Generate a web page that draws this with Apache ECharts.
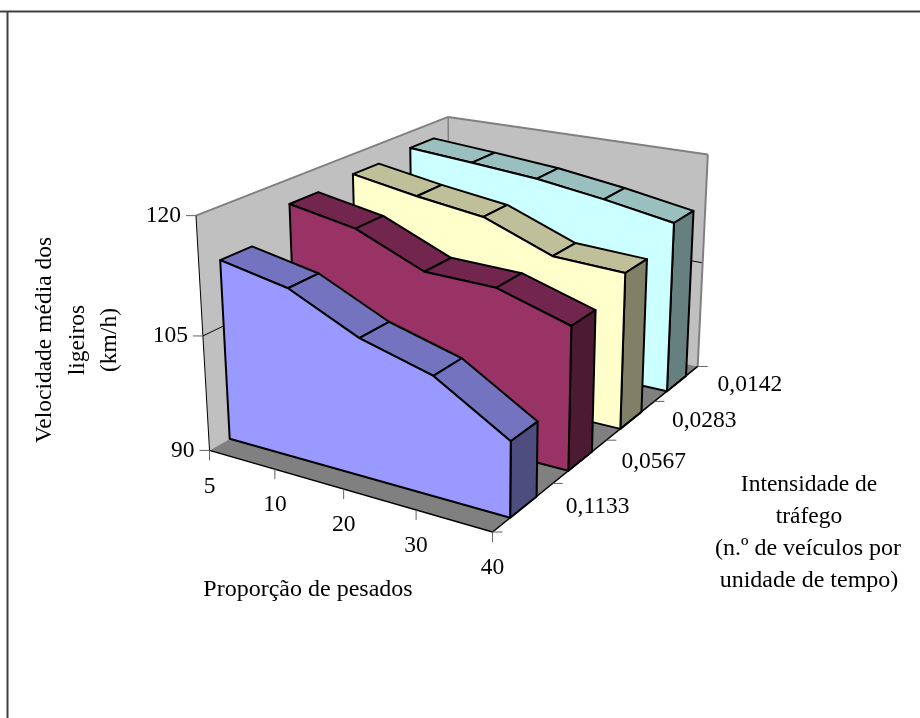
<!DOCTYPE html>
<html><head><meta charset="utf-8">
<style>html,body{margin:0;background:#fff}#c{width:920px;height:718px}</style>
<script src="https://cdn.jsdelivr.net/npm/echarts@6/dist/echarts.min.js"></script>
</head><body><div id="c"></div>
<script>
const proportions = ['5','10','20','30','40'];
const intensities = ['0,1133','0,0567','0,0283','0,0142'];
const speedMin = 90, speedMax = 120, speedStep = 15;
const speedsAt1133 = [113.4,111.7,107.5,105.0,99.4];
const speedsAt0567 = [116.8,115.2,111.4,111.2,108.4];
const speedsAt0283 = [117.3,115.8,114.6,111.1,110.7];
const speedsAt0142 = [117.7,117.0,116.2,114.9,113.3];
const bands = [speedsAt1133, speedsAt0567, speedsAt0283, speedsAt0142];
const faceColors = [
  ['#9999FF','#7373BF','#4D4D80'],
  ['#993366','#73264D','#4D1A33'],
  ['#FFFFCC','#BFBF99','#808066'],
  ['#CCFFFF','#99BFBF','#668080']
];
// Reference frame of the box: [x, depth, height] -> page position.
const boxFrame = [
  [0,0,0,210,451],[1,0,0,492,532],[1,1,0,698,366],[0,1,0,449,313],
  [0,0,1,196,215],[0,1,1,448,117],[1,1,1,708,155]
];
const bandFront = 0.28, bandBack = 0.72;
const FONT = '"Liberation Serif","Times New Roman",serif';

// Least-squares pinhole camera from the frame correspondences.
function fitCamera(rows){
  const n=11, A=[...Array(n)].map(()=>Array(n+1).fill(0));
  const add=(r,b)=>{for(let i=0;i<n;i++){for(let j=0;j<n;j++)A[i][j]+=r[i]*r[j];A[i][n]+=r[i]*b;}};
  rows.forEach(([X,Y,Z,u,v])=>{
    u/=500;v/=500;
    add([X,Y,Z,1,0,0,0,0,-u*X,-u*Y,-u*Z],u);
    add([0,0,0,0,X,Y,Z,1,-v*X,-v*Y,-v*Z],v);
  });
  for(let i=0;i<n;i++){
    let p=i;for(let k=i+1;k<n;k++)if(Math.abs(A[k][i])>Math.abs(A[p][i]))p=k;
    [A[i],A[p]]=[A[p],A[i]];
    for(let k=0;k<n;k++){if(k===i)continue;const f=A[k][i]/A[i][i];for(let j=i;j<=n;j++)A[k][j]-=f*A[i][j];}
  }
  return A.map((r,i)=>r[n]/r[i]);
}
const cam = fitCamera(boxFrame);
function toPage(x,d,z){
  const w=cam[8]*x+cam[9]*d+cam[10]*z+1;
  return [500*(cam[0]*x+cam[1]*d+cam[2]*z+cam[3])/w, 500*(cam[4]*x+cam[5]*d+cam[6]*z+cam[7])/w];
}

const chart = echarts.init(document.getElementById('c'),null,{renderer:'canvas'});

function poly(pts,fill,stroke,lw){
  return {type:'polygon',shape:{points:pts},style:{fill:fill||'none',stroke:stroke||'none',lineWidth:lw||0,lineJoin:'round'}};
}
function line(a,b,stroke,lw){
  return {type:'line',shape:{x1:a[0],y1:a[1],x2:b[0],y2:b[1]},style:{stroke:stroke,lineWidth:lw,fill:'none'}};
}
function label(text,x,y,align){
  return {type:'text',style:{text,x,y,align:align||'center',verticalAlign:'middle',fill:'#000',font:'23.5px '+FONT}};
}
function caption(text,x,y,size,turned){
  const el={type:'text',x,y,style:{text,font:size+'px '+FONT,align:'center',verticalAlign:'middle',fill:'#000'}};
  if(turned)el.rotation=Math.PI/2;
  return el;
}

// Maps a chart value through the hidden axes into unit box coordinates.
function unitOf(params,api,cat,val){
  const p=api.coord([cat,val]), s=params.coordSys;
  return [(p[0]-s.x)/s.width, 1-(p[1]-s.y)/s.height];
}

function renderBox(params,api){
  const U=(c,v)=>unitOf(params,api,c,v);
  const A=toPage(0,0,0),B=toPage(1,0,0),C=toPage(1,1,0),D=toPage(0,1,0);
  const At=toPage(0,0,1),Ct=toPage(1,1,1),Dt=toPage(0,1,1);
  const kids=[
    poly([A,D,Dt,At],'#C0C0C0'),
    poly([D,C,Ct,Dt],'#C0C0C0'),
    poly([A,B,C,D],'#808080'),
  ];
  const midZ=U(0,speedMin+speedStep)[1];
  kids.push(line(toPage(0,0,midZ),toPage(0,1,midZ),'#000',1));
  kids.push(line(toPage(0,1,midZ),toPage(1,1,midZ),'#000',1));
  kids.push(line(Dt,D,'#808080',1.5));
  kids.push(line(At,Dt,'#808080',2));
  kids.push(line(Dt,Ct,'#808080',2));
  kids.push(line(Ct,C,'#808080',2));
  kids.push(line(At,A,'#000',1));
  kids.push(line(A,B,'#000',1.5));
  kids.push(line(B,C,'#000',1.5));
  // value axis
  for(let v=speedMin;v<=speedMax;v+=speedStep){
    const p=toPage(0,0,U(0,v)[1]);
    kids.push(line([p[0]-10,p[1]],p,'#606060',1));
    kids.push(label(String(v),p[0]-15,p[1],'right'));
  }
  // category axis
  proportions.forEach((t,i)=>{
    const p=toPage(U(i,speedMin)[0],0,0);
    kids.push(line(p,[p[0],p[1]+10],'#606060',1));
    kids.push(label(t,p[0],p[1]+36));
  });
  // depth axis: labels drift outward as the ticks recede
  for(let k=0;k<=intensities.length;k++){
    const p=toPage(1,k/intensities.length,0);
    kids.push(line(p,[p[0]+10,p[1]],'#606060',1));
    if(k>0)kids.push(label(intensities[k-1],p[0]+45+2.4*(k-1),p[1]+23-1.7*(k-1)));
  }
  return {type:'group',children:kids};
}

function renderBand(k){
  return function(params,api){
    if(params.dataIndex!==proportions.length-1)return null;
    const n=proportions.length, vals=bands[k], colors=faceColors[k];
    const df=(k+bandFront)/bands.length, db=(k+bandBack)/bands.length;
    const f=[],b=[],f0=[];
    for(let i=0;i<n;i++){
      const u=unitOf(params,api,i,vals[i]);
      f.push(toPage(u[0],df,u[1]));
      b.push(toPage(u[0],db,u[1]));
      f0.push(toPage(u[0],df,0));
    }
    const bb=toPage(1,db,0);
    const kids=[];
    for(let i=0;i<n-1;i++)kids.push(poly([f[i],f[i+1],b[i+1],b[i]],colors[1],'#000',2));
    kids.push(poly([f[n-1],b[n-1],bb,f0[n-1]],colors[2],'#000',2));
    kids.push(poly([f0[0],f0[n-1]].concat(f.slice().reverse()),colors[0],'#000',2));
    return {type:'group',children:kids};
  };
}

const bandSeries=bands.map((vals,k)=>({
  type:'custom',clip:false,silent:true,animation:false,z:10+bands.length-k,
  renderItem:renderBand(k),
  data:vals.map((v,i)=>[i,v])
}));

chart.setOption({
  animation:false,
  grid:{left:0,top:0,width:920,height:718},
  xAxis:{type:'category',data:proportions,boundaryGap:false,show:false},
  yAxis:{type:'value',min:speedMin,max:speedMax,interval:speedStep,show:false},
  series:[{type:'custom',clip:false,silent:true,animation:false,z:5,renderItem:renderBox,data:[[0,speedMin]]}].concat(bandSeries),
  graphic:[
    {type:'line',shape:{x1:0,y1:11.5,x2:920,y2:11.5},style:{stroke:'#404040',lineWidth:2}},
    {type:'line',shape:{x1:7.5,y1:11,x2:7.5,y2:718},style:{stroke:'#404040',lineWidth:2}},
    caption('Velocidade média dos',45,340,23.5,true),
    caption('ligeiros',78,340,23.5,true),
    caption('(km/h)',110,340,23.5,true),
    caption('Proporção de pesados',308,590,24),
    caption('Intensidade de',809,485,23.5),
    caption('tráfego',809,517,23.5),
    caption('(n.º de veículos por',808,549,24),
    caption('unidade de tempo)',809,581,24)
  ]
});
</script></body></html>
